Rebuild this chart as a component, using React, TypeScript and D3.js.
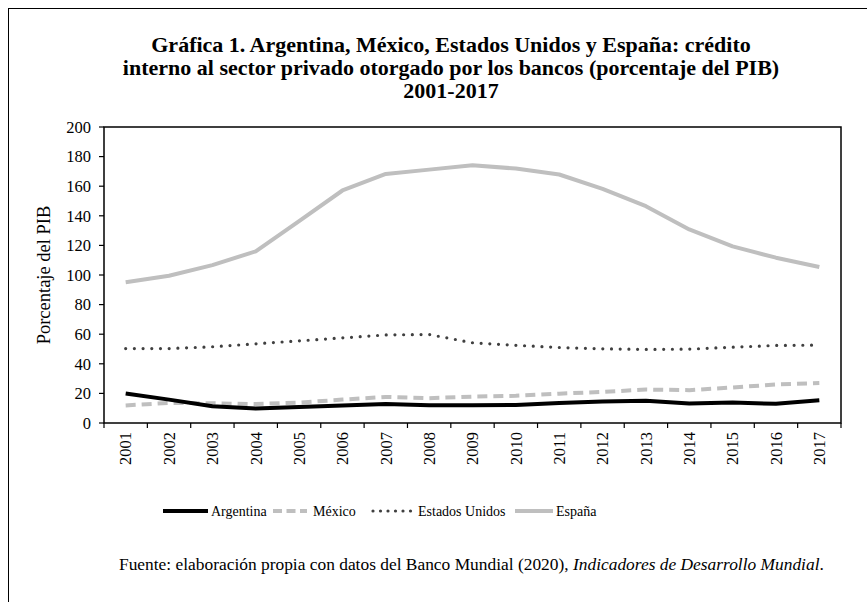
import React from "react";
import * as d3 from "d3";

const years = ["2001","2002","2003","2004","2005","2006","2007","2008","2009","2010","2011","2012","2013","2014","2015","2016","2017"];
const argentina = [20, 15.8, 11.3, 9.8, 10.8, 11.8, 12.8, 12, 12, 12.2, 13.5, 14.5, 15, 13.2, 13.8, 13, 15.3];
const mexico = [11.9, 13.6, 13.3, 12.8, 13.8, 15.8, 17.6, 16.8, 17.8, 18.4, 19.8, 21, 22.6, 22.2, 24, 26, 27];
const estadosUnidos = [50.3, 50.3, 51.5, 53.5, 55.5, 57.5, 59.5, 59.8, 54.2, 52.5, 51, 50.1, 49.7, 49.9, 51.2, 52.4, 52.6];
const espana = [95.1, 99.5, 106.7, 116, 136.4, 157.1, 168.3, 171.2, 174.2, 171.9, 167.9, 158.2, 146.5, 130.8, 119.3, 111.7, 105.4];
const yTicks = [0, 20, 40, 60, 80, 100, 120, 140, 160, 180, 200];
const titleLines = [
  "Gráfica 1. Argentina, México, Estados Unidos y España: crédito",
  "interno al sector privado otorgado por los bancos (porcentaje del PIB)",
  "2001-2017",
];
const seriesNames = ["Argentina", "México", "Estados Unidos", "España"];

const FONT = "'Liberation Serif', 'Times New Roman', serif";

export default function App() {
  const left = 104, right = 841, top = 127, bottom = 423;
  const x = d3.scaleBand<string>().domain(years).range([left, right]);
  const y = d3.scaleLinear().domain([0, 200]).range([bottom, top]);
  const cx = (yr: string) => (x(yr) as number) + x.bandwidth() / 2;
  const line = d3.line<number>().x((_, i) => cx(years[i])).y((v) => y(v));

  const styles = [
    { data: argentina, stroke: "#000000", width: 4, dash: undefined as string | undefined, cap: "butt" },
    { data: mexico, stroke: "#bfbfbf", width: 4, dash: "10 6", cap: "butt" },
    { data: estadosUnidos, stroke: "#404040", width: 3.2, dash: "0 8.7", cap: "round" },
    { data: espana, stroke: "#bfbfbf", width: 4, dash: undefined, cap: "butt" },
  ];
  const drawOrder = [3, 2, 1, 0];

  const legendItems = [
    { x1: 163, x2: 208, tx: 211 },
    { x1: 273, x2: 307, tx: 313 },
    { x1: 373, x2: 413, tx: 418 },
    { x1: 515, x2: 553, tx: 556 },
  ];
  const legendDash = [undefined, "9 4.5", "0 7.5", undefined];
  const legY = 511;

  const boundaries = years.map((yr) => x(yr) as number).concat([right]);

  return (
    <svg width={867} height={602} style={{ position: "absolute", left: 0, top: 0, background: "#fff" }} fontFamily={FONT}>
      <rect x={0} y={0} width={867} height={602} fill="#fff" />
      <rect x={8.5} y={8.5} width={900} height={700} fill="none" stroke="#000" strokeWidth={1} />
      {titleLines.map((t, i) => (
        <text key={i} x={451} y={52 + i * 23} textAnchor="middle" fontWeight="bold" fontSize={22} fill="#000">{t}</text>
      ))}
      <rect x={left} y={top} width={right - left} height={bottom - top} fill="none" stroke="#000" strokeWidth={1.5} />
      {yTicks.map((t) => (
        <g key={t}>
          <line x1={left - 5} x2={left} y1={y(t)} y2={y(t)} stroke="#000" strokeWidth={1.2} />
          <text x={91} y={y(t)} dy="0.35em" textAnchor="end" fontSize={16.5} fill="#000">{t}</text>
        </g>
      ))}
      {boundaries.map((b, i) => (
        <line key={i} x1={b} x2={b} y1={bottom} y2={bottom + 5} stroke="#000" strokeWidth={1.2} />
      ))}
      {years.map((yr) => (
        <text key={yr} transform={`translate(${cx(yr)},${bottom + 9}) rotate(-90)`} dy="0.35em" textAnchor="end" fontSize={16.5} fill="#000">{yr}</text>
      ))}
      <text transform={`translate(44,275) rotate(-90)`} dy="0.35em" textAnchor="middle" fontSize={18.5} fill="#000">Porcentaje del PIB</text>
      {drawOrder.map((k) => {
        const s = styles[k];
        return (
          <path key={k} d={line(s.data) as string} fill="none" stroke={s.stroke} strokeWidth={s.width}
            strokeDasharray={s.dash} strokeLinecap={s.cap as any} strokeLinejoin="round" />
        );
      })}
      {legendItems.map((it, i) => (
        <g key={i}>
          <line x1={it.x1} x2={it.x2} y1={legY} y2={legY} stroke={styles[i].stroke} strokeWidth={styles[i].width}
            strokeDasharray={legendDash[i]} strokeLinecap={styles[i].cap as any} />
          <text x={it.tx} y={legY} dy="0.35em" fontSize={14} fill="#000">{seriesNames[i]}</text>
        </g>
      ))}
      <text x={119} y={570} fontSize={17.4} fill="#000">
        Fuente: elaboración propia con datos del Banco Mundial (2020), <tspan fontStyle="italic">Indicadores de Desarrollo Mundial</tspan>.
      </text>
    </svg>
  );
}
